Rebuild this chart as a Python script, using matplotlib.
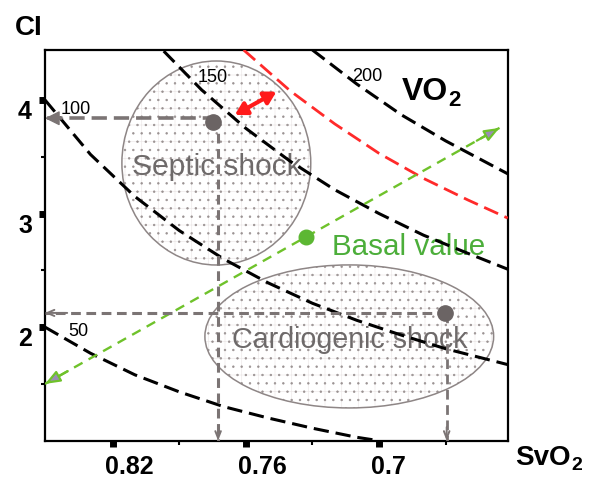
import matplotlib
matplotlib.use("Agg")
import matplotlib.pyplot as plt
from matplotlib.patches import Ellipse
from matplotlib.transforms import ScaledTranslation

plt.rcParams['font.family'] = ['Liberation Sans', 'DejaVu Sans']
plt.rcParams['lines.scale_dashes'] = False
plt.rcParams['hatch.linewidth'] = 0.5

# iso-VO2 curves (SvO2, CI)
sv_50 = [0.8505, 0.83, 0.81, 0.79, 0.77, 0.75, 0.73, 0.71, 0.70]
ci_50 = [2.00, 1.77, 1.58, 1.43, 1.30, 1.20, 1.11, 1.03, 1.00]
sv_100 = [0.8505, 0.83, 0.81, 0.79, 0.77, 0.75, 0.73, 0.71, 0.69, 0.67, 0.642]
ci_100 = [4.00, 3.52, 3.15, 2.85, 2.60, 2.39, 2.21, 2.06, 1.93, 1.81, 1.67]
sv_150 = [0.797, 0.78, 0.76, 0.74, 0.72, 0.70, 0.68, 0.66, 0.642]
ci_150 = [4.43, 4.09, 3.75, 3.46, 3.21, 3.00, 2.81, 2.65, 2.51]
sv_red = [0.761, 0.74, 0.72, 0.70, 0.68, 0.66, 0.642]
ci_red = [4.44, 4.08, 3.79, 3.53, 3.31, 3.12, 2.96]
sv_200 = [0.730, 0.71, 0.69, 0.67, 0.642]
ci_200 = [4.44, 4.14, 3.87, 3.64, 3.35]

curve_labels = ["50", "100", "150", "200"]
label_sv = [0.8356, 0.8365, 0.7749, 0.7051]
label_ci = [1.958, 3.912, 4.20, 4.21]

# states
septic = (0.7749, 3.806)
septic_proj = (0.7725, 3.839)
cardio = (0.6704, 2.122)
cardio_proj = (0.6695, 2.125)
basal = (0.7327, 2.797)
septic_zone = (0.7733, 3.445, 0.0851, 1.796)   # centre x, centre y, width, height
cardio_zone = (0.7134, 1.918, 0.1301, 1.259)
green_line = ([0.8505, 0.6457], [1.50, 3.754])
red_arrow = ([0.7650, 0.7462], [3.868, 4.073])

xticks = [0.82, 0.76, 0.70]
xtick_labels = ["0.82", "0.76", "0.7"]
yticks = [4, 3, 2]
ytick_labels = ["4", "3", "2"]

x_min, x_max = 0.8505, 0.642
y_min, y_max = 1.0, 4.44

fig = plt.figure(figsize=(6, 4.9), dpi=100)
ax = fig.add_axes([0.075, 0.1006, 0.7712, 0.7974])
ax.set_xlim(x_min, x_max)
ax.set_ylim(y_min, y_max)

grey = "#7b7474"
dot_grey = "#6b6464"
green = "#6fc22b"

# shaded zones
for cx, cy, w, h in [septic_zone, cardio_zone]:
    ax.add_patch(Ellipse((cx, cy), w, h, facecolor="white", edgecolor="#eeeaea",
                         hatch="+", lw=0, zorder=1))
    ax.add_patch(Ellipse((cx, cy), w, h, facecolor="none", edgecolor="#9a9292",
                         hatch="..", lw=0, zorder=1.1))
    ax.add_patch(Ellipse((cx, cy), w, h, fill=False, edgecolor="#8e8686",
                         lw=1.1, zorder=1.2))

ax.text(0.7731, 3.340, "Septic shock", fontsize=21.5, color="#6e6a6a",
        ha="center", va="baseline", zorder=2)
ax.text(0.7132, 1.817, "Cardiogenic shock", fontsize=20.6, color="#6e6a6a",
        ha="center", va="baseline", zorder=2)
ax.text(0.7214, 2.636, "Basal value", fontsize=21.3, color="#4cae3a",
        ha="left", va="baseline", zorder=2)

# iso-VO2 curves
dash = (0, (11, 5))
for sv, ci in [(sv_50, ci_50), (sv_100, ci_100), (sv_150, ci_150), (sv_200, ci_200)]:
    ax.plot(sv, ci, color="black", lw=2.2, ls=dash, zorder=3)
ax.plot(sv_red, ci_red, color="#ff2a2a", lw=2.0, ls=dash, zorder=3)

for lab, x, y in zip(curve_labels, label_sv, label_ci):
    ax.text(x, y, lab, fontsize=13, ha="center", va="center", zorder=4)

# green line through basal value, arrows both ends
ax.plot(*green_line, color=green, lw=1.7, ls=(0, (7, 5)), zorder=3)
for i in (0, 1):
    j = 1 - i
    x0, x1 = green_line[0][j], green_line[0][i]
    y0, y1 = green_line[1][j], green_line[1][i]
    ax.annotate("", xy=(x1, y1), xytext=(x1 + (x0 - x1) * 0.05, y1 + (y0 - y1) * 0.05),
                arrowprops=dict(arrowstyle="-|>,head_length=0.9,head_width=0.35",
                                fc="#9a8db5", ec=green, lw=1.6, shrinkA=0, shrinkB=0),
                zorder=4, annotation_clip=False)

# projections of the two shock states
gdash = (0, (7, 4))
ax.plot([septic_proj[0], x_min + 0.006], [septic_proj[1]] * 2, color=grey, lw=2.6,
        ls=(0, (11, 5)), zorder=3)
ax.annotate("", xy=(x_min, septic_proj[1]), xytext=(x_min - 0.008, septic_proj[1]),
            arrowprops=dict(arrowstyle="-|>,head_length=0.9,head_width=0.45",
                            fc=grey, ec=grey, lw=1, shrinkA=0, shrinkB=0),
            zorder=4, annotation_clip=False)
ax.plot([septic_proj[0]] * 2, [septic_proj[1], y_min], color=grey, lw=2.2, ls=gdash, zorder=3)
ax.annotate("", xy=(septic_proj[0], y_min), xytext=(septic_proj[0], y_min + 0.12),
            arrowprops=dict(arrowstyle="->,head_length=0.5,head_width=0.2",
                            color=grey, lw=1.4, shrinkA=0, shrinkB=0), zorder=4)

ax.plot([cardio_proj[0], x_min], [cardio_proj[1]] * 2, color=grey, lw=2.2, ls=gdash, zorder=3)
ax.annotate("", xy=(x_min, cardio_proj[1]), xytext=(x_min - 0.01, cardio_proj[1]),
            arrowprops=dict(arrowstyle="->,head_length=0.5,head_width=0.22",
                            color=grey, lw=1.4, shrinkA=0, shrinkB=0), zorder=4)
ax.plot([cardio_proj[0]] * 2, [cardio_proj[1], y_min], color=grey, lw=2.0, ls=gdash, zorder=3)
ax.annotate("", xy=(cardio_proj[0], y_min), xytext=(cardio_proj[0], y_min + 0.12),
            arrowprops=dict(arrowstyle="->,head_length=0.5,head_width=0.2",
                            color=grey, lw=1.4, shrinkA=0, shrinkB=0), zorder=4)

# red double arrow
ax.annotate("", xy=(red_arrow[0][1], red_arrow[1][1]), xytext=(red_arrow[0][0], red_arrow[1][0]),
            arrowprops=dict(arrowstyle="<|-|>,head_length=0.7,head_width=0.4",
                            color="#ff1a1a", lw=3, shrinkA=0, shrinkB=0), zorder=4)

# state points
ax.plot(*septic, "o", ms=11, color=dot_grey, zorder=5)
ax.plot(*cardio, "o", ms=11, color=dot_grey, zorder=5)
ax.plot(*basal, "o", ms=10.5, color="#5cb733", zorder=5)

# axes styling
for s in ax.spines.values():
    s.set_linewidth(1.6)
ax.set_xticks(xticks)
ax.set_yticks(yticks)
ax.set_xticks([0.79, 0.73, 0.67], minor=True)
ax.set_yticks([3.5, 2.5, 1.5], minor=True)
ax.tick_params(which="major", length=4, width=5, direction="out",
               labelbottom=False, labelleft=False)
ax.tick_params(which="minor", length=3, width=1.5, direction="out")

for v, lab in zip(xticks, xtick_labels):
    ax.text(v, 0, lab, transform=ax.get_xaxis_transform() +
            ScaledTranslation(-8 / 100, -14 / 100, fig.dpi_scale_trans),
            fontsize=18, fontweight="bold", ha="left", va="top")
for v, lab in zip(yticks, ytick_labels):
    ax.text(0, v, lab, transform=ax.get_yaxis_transform() +
            ScaledTranslation(-13 / 100, 0, fig.dpi_scale_trans),
            fontsize=18, fontweight="bold", ha="right", va="top")

# axis titles
fig.text(15 / 600, 1 - 35 / 490, "CI", fontsize=20, fontweight="bold", ha="left", va="baseline")
t = fig.text(515 / 600, 1 - 465 / 490, "SvO", fontsize=20, fontweight="bold",
             ha="left", va="baseline")
ax.annotate("2", xy=(1, 0.22), xycoords=t, xytext=(0.5, 0), textcoords="offset points",
            fontsize=14, fontweight="bold", ha="left", va="center")
v = ax.text(0.82 - (402 - 112.7) * 0.00045011, 4.0, "VO", fontsize=23,
            fontweight="bold", ha="left", va="baseline")
ax.annotate("2", xy=(1, 0.22), xycoords=v, xytext=(0.5, 0), textcoords="offset points",
            fontsize=16, fontweight="bold", ha="left", va="center")

fig.savefig("out.png", dpi=100)
